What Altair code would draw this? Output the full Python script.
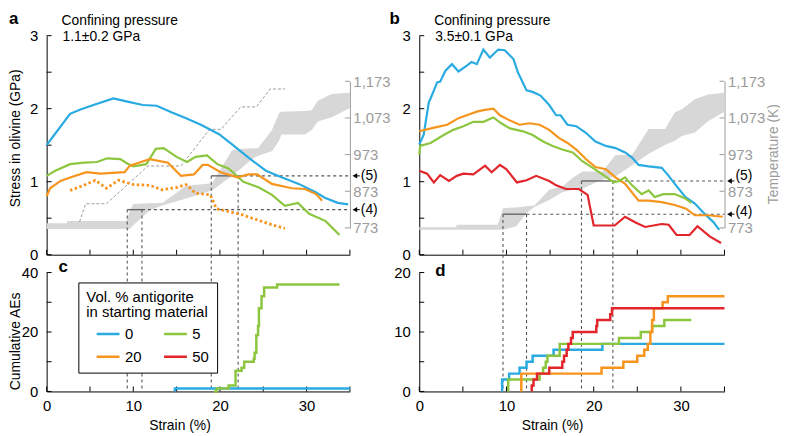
import altair as alt
import pandas as pd

FONT = "Liberation Sans"
SERIES = ["0", "20", "5", "50"]          # legend order (filled column by column)
COLORS = ["#29abe2", "#f7941d", "#8cc63f", "#e2252b"]
GRAY = "#9b9b9b"
BAND = "#d7d7d7"
DASH = "#555555"

WA, WB = 306, 308
HT, HB = 221, 120
T_PX = [194, 46]  # rows (from plot top) where 773 K and 1,173 K sit

STRAIN_TICKS = [0, 5, 10, 15, 20, 25, 30, 35]
STRAIN_LABELS = [0, 10, 20, 30]
STRESS_TICKS = [0, 0.5, 1, 1.5, 2, 2.5, 3]
STRESS_LABELS = [0, 1, 2, 3]
T_TICKS = [773, 873, 973, 1073, 1173]

# ---------------- panel a : 1.1 GPa ----------------
a0_x = [0, 1.0, 2.7, 3.9, 5.4, 7.7, 9.2, 11.1, 12.7, 14.4, 16.1, 17.8, 19.9, 21.4, 23.3, 25.3, 27.1, 29.1, 31.0, 32.1, 33.6, 34.8]
a0_y = [1.50, 1.66, 1.93, 1.99, 2.05, 2.14, 2.10, 2.05, 2.04, 1.95, 1.87, 1.78, 1.65, 1.51, 1.33, 1.15, 1.06, 0.97, 0.86, 0.78, 0.71, 0.69]
a5_x = [0, 1.0, 2.7, 4.3, 5.8, 7.0, 8.5, 9.3, 10.0, 11.5, 12.6, 13.5, 15.0, 16.2, 17.2, 18.5, 19.7, 21.0, 22.7, 24.5, 26.0, 27.5, 29.0, 30.3, 32.2, 33.8]
a5_y = [1.08, 1.15, 1.24, 1.26, 1.27, 1.32, 1.31, 1.25, 1.21, 1.24, 1.45, 1.46, 1.34, 1.27, 1.34, 1.36, 1.24, 1.18, 1.00, 0.92, 0.82, 0.67, 0.71, 0.56, 0.46, 0.27]
a20_x = [0, 0.4, 1.6, 2.8, 4.6, 6.2, 9.0, 9.6, 11.9, 14.0, 15.5, 17.0, 18.0, 18.6, 20.1, 22.0, 23.3, 24.3, 26.0, 28.3, 29.8, 31.1, 31.8]
a20_y = [0.80, 0.91, 1.01, 1.06, 1.13, 1.11, 1.13, 1.22, 1.31, 1.26, 1.08, 1.10, 1.23, 1.23, 1.13, 1.06, 1.10, 1.10, 0.97, 0.91, 0.90, 0.83, 0.74]
a20d_x = [2.7, 4.3, 5.6, 6.9, 8.3, 10.0, 11.9, 13.3, 15.0, 16.1, 17.2, 18.9, 19.6, 21.4, 22.5, 23.7, 26.0, 27.5]
a20d_y = [0.88, 0.95, 1.02, 0.91, 1.02, 0.96, 0.95, 0.89, 0.92, 0.96, 0.84, 0.82, 0.63, 0.58, 0.55, 0.50, 0.41, 0.36]
aT_x = [0, 2.3, 2.4, 9.2, 9.6, 10.0, 11.9, 13.4, 16.1, 19.1, 21.4, 22.2, 23.7, 24.4, 26.0, 26.8, 27.1, 29.8, 30.6, 31.3, 32.9, 35]
aT_lo = [770, 770, 770, 770, 770, 780, 821, 835, 853, 875, 915, 930, 961, 970, 982, 1010, 1028, 1028, 1040, 1063, 1075, 1100]
aT_hi = [786, 786, 792, 792, 820, 838, 840, 842, 888, 895, 985, 988, 990, 990, 1040, 1085, 1090, 1092, 1094, 1120, 1138, 1142]
aTd_x = [3.8, 4.5, 6.9, 11.7, 15.5, 18.8, 20.1, 22.4, 24.2, 25.8, 27.5]
aTd_y = [790, 839, 839, 942, 942, 1042, 1042, 1103, 1103, 1152, 1152]

# ---------------- panel b : 3.5 GPa ----------------
b0_x = [0, 0.5, 1.1, 1.3, 2.05, 2.4, 3.0, 3.75, 4.5, 5.45, 6.0, 6.6, 7.35, 8.1, 9.05, 9.8, 10.8, 11.3, 12.3, 13.0, 13.9, 14.9, 15.7, 16.2, 17.0, 18.0, 19.1, 20.2, 21.4, 22.5, 23.6, 24.4, 25.15, 26.3, 27.8, 28.6, 29.3, 30.5, 31.6, 32.7, 33.7, 34.4]
b0_y = [1.51, 1.64, 2.09, 2.14, 2.36, 2.37, 2.52, 2.61, 2.51, 2.59, 2.64, 2.61, 2.81, 2.70, 2.81, 2.80, 2.68, 2.50, 2.25, 2.23, 2.18, 2.05, 1.91, 1.91, 1.78, 1.76, 1.67, 1.55, 1.49, 1.46, 1.40, 1.33, 1.23, 1.21, 1.19, 1.08, 0.97, 0.79, 0.70, 0.56, 0.45, 0.34]
b5_x = [0, 0.1, 1.3, 2.8, 3.9, 5.05, 6.2, 7.35, 8.5, 9.4, 10.4, 11.9, 13.0, 14.2, 15.3, 16.4, 17.6, 18.7, 19.9, 21.0, 22.3, 22.9, 23.6, 24.4, 25.5, 26.3, 27.0, 28.0, 29.3, 30.5, 31.2]
b5_y = [1.37, 1.49, 1.53, 1.64, 1.71, 1.76, 1.82, 1.82, 1.88, 1.80, 1.73, 1.69, 1.64, 1.55, 1.49, 1.44, 1.40, 1.28, 1.19, 1.10, 0.99, 1.01, 1.06, 0.95, 0.83, 0.88, 0.79, 0.83, 0.83, 0.77, 0.71]
b20_x = [0, 1.7, 3.2, 4.5, 5.45, 6.6, 7.35, 8.5, 9.25, 10.2, 11.5, 12.65, 13.8, 14.9, 16.0, 17.0, 18.0, 19.1, 20.2, 21.4, 22.5, 23.6, 25.15, 26.3, 27.8, 29.3, 30.6, 31.6, 33.1, 34.8]
b20_y = [1.69, 1.74, 1.78, 1.87, 1.91, 1.96, 1.98, 2.00, 1.91, 1.85, 1.78, 1.80, 1.78, 1.71, 1.60, 1.53, 1.44, 1.31, 1.20, 1.17, 1.06, 0.97, 0.74, 0.74, 0.72, 0.68, 0.63, 0.54, 0.54, 0.52]
b50_x = [0, 0.9, 1.67, 2.4, 3.4, 4.3, 5.05, 6.2, 7.55, 8.3, 9.25, 10.0, 11.2, 12.3, 13.4, 14.9, 15.7, 16.8, 18.3, 19.3, 20.0, 21.0, 22.4, 23.6, 24.8, 25.9, 27.8, 28.6, 29.5, 31.0, 31.9, 33.3, 34.6]
b50_y = [1.15, 1.11, 0.99, 1.09, 1.01, 1.08, 1.11, 1.10, 1.22, 1.13, 1.23, 1.17, 0.99, 1.02, 1.08, 1.01, 0.95, 0.90, 0.90, 0.82, 0.40, 0.40, 0.40, 0.52, 0.44, 0.38, 0.42, 0.41, 0.27, 0.27, 0.39, 0.25, 0.16]
bT_x = [0, 4.2, 4.3, 9.0, 9.6, 11.1, 12.3, 13.2, 14.9, 16.4, 17.6, 18.7, 21.0, 22.5, 24.4, 26.3, 28.2, 29.3, 30.1, 31.6, 33.1, 35]
bT_lo = [768, 768, 768, 768, 768, 777, 813, 830, 849, 870, 877, 880, 905, 913, 944, 975, 1000, 1011, 1024, 1033, 1064, 1090]
bT_hi = [775, 775, 782, 782, 827, 829, 832, 834, 877, 886, 910, 927, 927, 972, 972, 1043, 1043, 1088, 1097, 1124, 1137, 1142]

# ---------------- panel c : cumulative AEs, 1.1 GPa ----------------
c0_x = [14.8, 14.8, 35]
c0_y = [0, 1, 1]
c5_x = [19.3, 19.6, 21.0, 21.8, 22.5, 22.8, 23.9, 24.0, 24.2, 24.4, 24.5, 24.8, 25.1, 26.6, 33.8]
c5_y = [0, 1, 2, 7, 8, 10, 11, 13, 19, 22, 28, 32, 35, 36, 36]

# ---------------- panel d : cumulative AEs, 3.5 GPa ----------------
d0_x = [9.5, 9.5, 10.3, 11.5, 12.3, 13.0, 15.4, 21.0, 35]
d0_y = [0, 2, 3, 4, 5, 6, 7, 8, 8]
d5_x = [10.2, 10.2, 13.8, 14.2, 14.5, 14.7, 16.1, 22.9, 25.4, 26.7, 28.1, 31.2]
d5_y = [0, 2, 3, 4, 5, 6, 8, 9, 10, 11, 12, 12]
d20_x = [11.7, 11.7, 20.9, 23.4, 25.0, 25.8, 26.2, 26.5, 26.7, 26.9, 27.9, 28.5, 35]
d20_y = [0, 3, 4, 5, 6, 7, 8, 10, 12, 14, 15, 16, 16]
d50_x = [12.9, 12.9, 13.1, 13.5, 14.9, 16.4, 16.6, 16.9, 17.1, 17.4, 17.6, 20.3, 20.4, 21.9, 22.1, 35]
d50_y = [0, 1, 2, 3, 4, 5, 6, 7, 8, 9, 10, 11, 12, 13, 14, 14]

# ---------------- reference lines (4) and (5) ----------------
a_v4, a_h4, a_v5, a_h5 = [9.3, 11.0], 0.617, [19.0, 22.1], 1.08
b_v4, b_h4, b_v5, b_h5 = [9.6, 12.3], 0.555, [18.6, 22.2], 1.01
a_lab_v = [0.617, 1.08]      # where the "(4)" / "(5)" texts sit
b_lab_v = [0.585, 1.08]


def df_series(items):
    rows = []
    for name, xs, ys in items:
        for i, (x, y) in enumerate(zip(xs, ys)):
            rows.append({"series": name, "strain": x, "v": y, "i": i})
    return pd.DataFrame(rows)


XS = alt.Scale(domain=[0, 35], nice=False, zero=False)
CS = alt.Scale(domain=SERIES, range=COLORS)
ONE = pd.DataFrame({"k": [0]})


def X(axis=alt.Undefined):
    return alt.X("strain:Q", scale=XS, axis=axis)


def label(text, x, y, size=14, weight="normal", color="black"):
    return alt.Chart(ONE).mark_text(
        text=text, fontSize=size, fontWeight=weight, align="left",
        baseline="alphabetic", font=FONT, color=color
    ).encode(x=alt.value(x), y=alt.value(y))


def stress_panel(W, items, dotted, bx, blo, bhi, tpath, v4, h4, v5, h5, lab_v,
                 letter, lx, ptext, ytitle, ttitle):
    YS = alt.Scale(domain=[0, 3], nice=False, zero=False)
    TS = alt.Scale(domain=[773, 1173], range=T_PX, nice=False, zero=False)

    tkw = dict(orient="right", values=T_TICKS, format=",d", labelColor=GRAY,
               domainColor=GRAY, labelPadding=3, title=None)
    if ttitle:
        tkw.update(title=ttitle, titleColor=GRAY, titleAngle=270, titleX=53,
                   titleY=119, titleBaseline="alphabetic", titleAlign="center",
                   titleFontSize=14)
    band = alt.Chart(pd.DataFrame({"strain": bx, "lo": blo, "hi": bhi})).mark_area(
        color=BAND, opacity=1).encode(
        x=X(), y=alt.Y("lo:Q", scale=TS, axis=alt.Axis(**tkw)), y2="hi:Q")
    tticks = alt.Chart(pd.DataFrame({"lo": T_TICKS})).mark_rule(
        color=GRAY, strokeWidth=1).encode(
        y=alt.Y("lo:Q", scale=TS), x=alt.value(W - 5), x2=alt.value(W))
    tl = [band, tticks]
    if tpath:
        tp = pd.DataFrame({"strain": tpath[0], "lo": tpath[1], "i": list(range(len(tpath[0])))})
        tl.append(alt.Chart(tp).mark_line(color="#9a9a9a", strokeWidth=1,
                                          strokeDash=[3, 2]).encode(
            x=X(), y=alt.Y("lo:Q", scale=TS), order="i:Q"))
    temp_layer = alt.layer(*tl)

    ykw = dict(orient="left", values=STRESS_LABELS, format="d", labelPadding=9, title=None)
    if ytitle:
        ykw.update(title=ytitle, titleAngle=270, titleX=-24, titleY=103,
                   titleBaseline="bottom", titleAlign="center")
    yticks = alt.Chart(pd.DataFrame({"v": STRESS_TICKS})).mark_rule(color="black").encode(
        y=alt.Y("v:Q", scale=YS, axis=alt.Axis(**ykw)), x=alt.value(0), x2=alt.value(5))
    xticks = alt.Chart(pd.DataFrame({"strain": STRAIN_TICKS})).mark_rule(color="black").encode(
        x=X(alt.Axis(values=STRAIN_TICKS, labels=False, title=None)),
        y=alt.value(HT - 5), y2=alt.value(HT))

    vdf = pd.DataFrame({"strain": v4 + v5, "v": [h4] * len(v4) + [h5] * len(v5),
                        "bot": [0.0] * (len(v4) + len(v5))})
    vlines = alt.Chart(vdf).mark_rule(color=DASH, strokeDash=[3, 3], strokeWidth=1.1).encode(
        x=X(), y=alt.Y("v:Q", scale=YS), y2="bot:Q")
    hdash = pd.DataFrame({"strain": [v4[1], v5[1]], "x2": [35, 35], "v": [h4, h5]})
    hsolid = pd.DataFrame({"strain": [v4[0], v5[0]], "x2": [v4[1], v5[1]], "v": [h4, h5]})
    hl1 = alt.Chart(hdash).mark_rule(color=DASH, strokeDash=[3, 3], strokeWidth=1.1).encode(
        x=X(), x2="x2:Q", y=alt.Y("v:Q", scale=YS))
    hl2 = alt.Chart(hsolid).mark_rule(color="#666666", strokeWidth=1.4).encode(
        x=X(), x2="x2:Q", y=alt.Y("v:Q", scale=YS))
    arr = pd.DataFrame({"v": [h4, h5], "vt": lab_v, "lab": ["(4)", "(5)"]})
    heads = alt.Chart(arr).mark_point(shape="triangle-left", filled=True, size=30,
                                      color="black", opacity=1).encode(
        x=alt.value(W + 5), y=alt.Y("v:Q", scale=YS))
    tails = alt.Chart(arr).mark_rule(color="black", strokeWidth=1).encode(
        x=alt.value(W + 5), x2=alt.value(W + 10), y=alt.Y("v:Q", scale=YS))
    alabs = alt.Chart(arr).mark_text(align="left", baseline="middle", fontSize=14,
                                     font=FONT, color="black").encode(
        x=alt.value(W + 11), y=alt.Y("vt:Q", scale=YS), text="lab:N")

    lines = alt.Chart(df_series(items)).mark_line(strokeWidth=2.2).encode(
        x=X(), y=alt.Y("v:Q", scale=YS),
        color=alt.Color("series:N", scale=CS, legend=None), order="i:Q")
    sl = [yticks, xticks, vlines, hl1, hl2, lines]
    if dotted:
        sl.append(alt.Chart(df_series([dotted])).mark_line(
            strokeWidth=2.8, strokeDash=[2.5, 2.5]).encode(
            x=X(), y=alt.Y("v:Q", scale=YS),
            color=alt.Color("series:N", scale=CS, legend=None), order="i:Q"))
    sl += [heads, tails, alabs,
           label(letter, lx, -12, size=17, weight="bold"),
           label("Confining pressure", 15, -11),
           label(ptext, 16, 5)]
    stress_layer = alt.layer(*sl)
    return alt.layer(temp_layer, stress_layer).resolve_scale(y="independent").properties(
        width=W, height=HT)


LEGEND = alt.Legend(
    orient="none", legendX=32, legendY=10,
    title=["Vol. % antigorite", "in starting material"], columns=2,
    symbolType="stroke", symbolSize=529, symbolStrokeWidth=2.5,
    labelFontSize=15, titleFontSize=15, titleFontWeight="normal",
    titleColor="black", labelColor="black", labelFont=FONT, titleFont=FONT,
    strokeColor="black", fillColor="white", padding=8, columnPadding=12,
    rowPadding=7, clipHeight=16, labelOffset=4, symbolOffset=9, titlePadding=6,
    titleLineHeight=15)


def ae_panel(W, items, ymax, yt, yl, vx, letter, lx, ly, ytitle=None, legend=False):
    YS = alt.Scale(domain=[0, ymax], nice=False, zero=False)
    color = alt.Color("series:N", scale=CS, legend=LEGEND if legend else None)
    ykw = dict(orient="left", values=yl, format="d", labelPadding=9, title=None)
    if ytitle:
        ykw.update(title=ytitle, titleAngle=270, titleX=-24, titleY=69,
                   titleBaseline="bottom", titleAlign="center")
    yticks = alt.Chart(pd.DataFrame({"v": yt})).mark_rule(color="black").encode(
        y=alt.Y("v:Q", scale=YS, axis=alt.Axis(**ykw)), x=alt.value(0), x2=alt.value(5))
    xticks = alt.Chart(pd.DataFrame({"strain": STRAIN_TICKS})).mark_rule(color="black").encode(
        x=X(alt.Axis(values=STRAIN_LABELS, format="d", labelPadding=7, title="Strain (%)",
                     titleX=134, titlePadding=5)),
        y=alt.value(HB - 5), y2=alt.value(HB))
    vl = alt.Chart(pd.DataFrame({"strain": vx})).mark_rule(
        color=DASH, strokeDash=[3, 3], strokeWidth=1.1).encode(
        x=X(), y=alt.value(-18), y2=alt.value(HB))
    steps = alt.Chart(df_series(items)).mark_line(
        interpolate="step-after", strokeWidth=2.5).encode(
        x=X(), y=alt.Y("v:Q", scale=YS), color=color, order="i:Q")
    return alt.layer(yticks, xticks, vl, steps,
                     label(letter, lx, ly, size=17, weight="bold")).properties(
        width=W, height=HB)


pa = stress_panel(WA, [("0", a0_x, a0_y), ("5", a5_x, a5_y), ("20", a20_x, a20_y)],
                  ("20", a20d_x, a20d_y), aT_x, aT_lo, aT_hi, (aTd_x, aTd_y),
                  a_v4, a_h4, a_v5, a_h5, a_lab_v, "a", -38, "1.1\u00b10.2 GPa",
                  "Stress in olivine (GPa)", None)
pb = stress_panel(WB, [("0", b0_x, b0_y), ("20", b20_x, b20_y), ("5", b5_x, b5_y),
                       ("50", b50_x, b50_y)],
                  None, bT_x, bT_lo, bT_hi, None,
                  b_v4, b_h4, b_v5, b_h5, b_lab_v, "b", -30, "3.5\u00b10.1 GPa",
                  None, "Temperature (K)")
pc = ae_panel(WA, [("0", c0_x, c0_y), ("5", c5_x, c5_y)], 40, [0, 10, 20, 30, 40],
              [0, 20, 40], a_v4 + a_v5, "c", 12, -1, ytitle="Cumulative AEs", legend=True)
pdd = ae_panel(WB, [("0", d0_x, d0_y), ("5", d5_x, d5_y), ("20", d20_x, d20_y),
                    ("50", d50_x, d50_y)], 20, [0, 5, 10, 15, 20], [0, 10, 20],
               b_v4 + b_v5, "d", 16, 4)

chart = alt.concat(
    pa, pb, pc, pdd, columns=2, spacing={"row": 18, "column": 70},
    bounds="flush", align="each"
).resolve_scale(color="independent").properties(
    padding={"left": 0, "top": 0, "right": 0, "bottom": 0}
).configure(font=FONT).configure_view(stroke=None).configure_axis(
    grid=False, ticks=False, domainColor="black", domainWidth=1,
    labelFont=FONT, labelFontSize=15, labelColor="black", labelFlush=False,
    titleFont=FONT, titleFontSize=14, titleFontWeight="normal", titleColor="black"
)

chart.save("out.html", embed_options={"renderer": "svg", "actions": False})
